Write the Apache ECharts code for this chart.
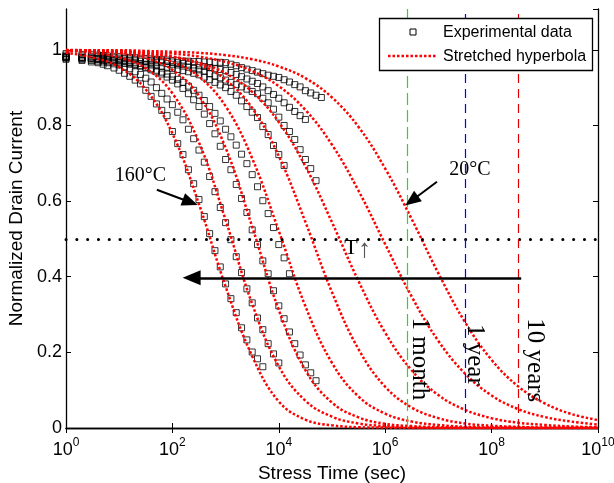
<!DOCTYPE html>
<html>
<head>
<meta charset="utf-8">
<script src="https://cdn.jsdelivr.net/npm/echarts@6/dist/echarts.min.js"></script>
<style>
  html, body { margin: 0; padding: 0; background: #fff; }
  #chart { width: 614px; height: 483px; }
</style>
</head>
<body>
<div id="chart"></div>
<script>
// stress times (sec) of the measured points, shared by all temperatures
const sampleTimes = [1, 2, 3, 4, 5, 6, 8, 10, 12.6, 15.8, 20, 25.1, 31.6, 39.8, 50.1, 63.1, 79.4,
  100, 126, 158, 200, 251, 316, 398, 501, 631, 794, 1000, 1259, 1585, 1995, 2512, 3162, 3981,
  5012, 6310, 7943, 10000, 12589, 15849, 19953, 25119, 31623, 39811, 50119, 63096];

// measured normalized drain current (each list stops where that run ended)
const measured160C = [0.975, 0.972, 0.968, 0.966, 0.962, 0.958, 0.952, 0.946, 0.938, 0.93, 0.92, 0.91,
  0.893, 0.877, 0.857, 0.84, 0.826, 0.784, 0.752, 0.723, 0.683, 0.646, 0.604, 0.559, 0.514, 0.469,
  0.426, 0.381, 0.342, 0.305, 0.265, 0.233, 0.201, 0.183, 0.162];
const measured140C = [0.978, 0.975, 0.972, 0.97, 0.968, 0.966, 0.963, 0.96, 0.955, 0.95, 0.942, 0.935,
  0.925, 0.915, 0.9, 0.885, 0.87, 0.855, 0.835, 0.815, 0.79, 0.765, 0.735, 0.703, 0.665, 0.625,
  0.583, 0.543, 0.498, 0.453, 0.411, 0.368, 0.331, 0.291, 0.26, 0.223, 0.196, 0.172];
const measured120C = [0.98, 0.978, 0.976, 0.975, 0.974, 0.973, 0.972, 0.97, 0.968, 0.965, 0.962, 0.958,
  0.952, 0.947, 0.942, 0.936, 0.928, 0.92, 0.91, 0.898, 0.884, 0.868, 0.85, 0.83, 0.805, 0.778,
  0.745, 0.71, 0.683, 0.644, 0.607, 0.57, 0.524, 0.485, 0.442, 0.408, 0.363, 0.323, 0.289, 0.254,
  0.223, 0.193, 0.167, 0.146, 0.125];
const measured100C = [0.98, 0.978, 0.976, 0.974, 0.972, 0.97, 0.968, 0.966, 0.964, 0.962, 0.96, 0.957,
  0.954, 0.95, 0.946, 0.941, 0.936, 0.93, 0.922, 0.914, 0.904, 0.893, 0.88, 0.866, 0.85, 0.832,
  0.812, 0.79, 0.77, 0.748, 0.724, 0.699, 0.67, 0.638, 0.601, 0.567, 0.53, 0.485, 0.45, 0.408];
const measured80C = [0.982, 0.98, 0.978, 0.977, 0.976, 0.975, 0.973, 0.972, 0.97, 0.968, 0.966, 0.964,
  0.962, 0.96, 0.958, 0.956, 0.954, 0.951, 0.948, 0.945, 0.942, 0.938, 0.934, 0.928, 0.921, 0.914,
  0.907, 0.9, 0.89, 0.88, 0.865, 0.85, 0.835, 0.821, 0.797, 0.776, 0.747, 0.723, 0.694];
const measured60C = [0.982, 0.98, 0.979, 0.978, 0.977, 0.976, 0.975, 0.974, 0.973, 0.972, 0.971, 0.97,
  0.969, 0.968, 0.967, 0.966, 0.964, 0.962, 0.96, 0.957, 0.954, 0.951, 0.947, 0.943, 0.937, 0.931,
  0.926, 0.92, 0.914, 0.908, 0.902, 0.896, 0.89, 0.884, 0.872, 0.86, 0.843, 0.822, 0.8, 0.784,
  0.763, 0.736, 0.71, 0.686, 0.654];
const measured40C = [0.986, 0.984, 0.983, 0.982, 0.981, 0.98, 0.979, 0.978, 0.977, 0.976, 0.975, 0.974,
  0.973, 0.972, 0.971, 0.97, 0.969, 0.968, 0.966, 0.964, 0.962, 0.96, 0.958, 0.956, 0.953, 0.95,
  0.948, 0.945, 0.94, 0.935, 0.929, 0.923, 0.917, 0.911, 0.902, 0.892, 0.882, 0.872, 0.86, 0.848,
  0.837, 0.826, 0.816];
const measured20C = [0.99, 0.988, 0.987, 0.986, 0.985, 0.984, 0.983, 0.982, 0.981, 0.98, 0.979, 0.978,
  0.977, 0.976, 0.975, 0.974, 0.973, 0.972, 0.971, 0.97, 0.97, 0.969, 0.969, 0.968, 0.968, 0.967,
  0.967, 0.966, 0.962, 0.958, 0.953, 0.949, 0.945, 0.941, 0.937, 0.933, 0.93, 0.927, 0.921, 0.915,
  0.908, 0.902, 0.892, 0.886, 0.88, 0.874];

// stretched hyperbola fits, read every half decade
const fitTimes = [1, 3.162, 10, 31.62, 100, 316.2, 1000, 3162, 1e4, 31623, 1e5, 316228, 1e6,
  3162278, 1e7, 31622777, 1e8, 316227766, 1e9, 3162277660, 1e10];
const fit160C = [0.992, 0.98, 0.954, 0.895, 0.779, 0.592, 0.374, 0.19, 0.07, 0.022, 0.007, 0.002, 0.001, 0, 0, 0, 0, 0, 0, 0, 0];
const fit140C = [0.997, 0.992, 0.98, 0.951, 0.885, 0.755, 0.55, 0.328, 0.163, 0.072, 0.03, 0.012, 0.005, 0.002, 0.001, 0, 0, 0, 0, 0, 0];
const fit120C = [0.999, 0.997, 0.991, 0.978, 0.947, 0.878, 0.741, 0.532, 0.312, 0.153, 0.067, 0.028, 0.011, 0.005, 0.002, 0.001, 0, 0, 0, 0, 0];
const fit100C = [0.999, 0.997, 0.994, 0.986, 0.968, 0.929, 0.851, 0.713, 0.521, 0.322, 0.172, 0.083, 0.038, 0.017, 0.008, 0.003, 0.001, 0.001, 0, 0, 0];
const fit80C = [0.999, 0.998, 0.996, 0.991, 0.982, 0.962, 0.921, 0.846, 0.719, 0.545, 0.359, 0.208, 0.109, 0.054, 0.026, 0.012, 0.006, 0.003, 0.001, 0.001, 0];
const fit60C = [0.999, 0.997, 0.995, 0.99, 0.982, 0.966, 0.938, 0.889, 0.809, 0.692, 0.544, 0.388, 0.252, 0.152, 0.087, 0.048, 0.026, 0.014, 0.008, 0.004, 0.002];
const fit40C = [0.999, 0.998, 0.997, 0.994, 0.99, 0.982, 0.968, 0.944, 0.904, 0.841, 0.749, 0.627, 0.486, 0.347, 0.23, 0.144, 0.086, 0.05, 0.029, 0.017, 0.009];
const fit20C = [1.0, 0.999, 0.999, 0.997, 0.995, 0.992, 0.986, 0.975, 0.956, 0.925, 0.874, 0.796, 0.686, 0.552, 0.409, 0.28, 0.18, 0.11, 0.065, 0.037, 0.021];

const measuredRuns = [measured160C, measured140C, measured120C, measured100C, measured80C, measured60C, measured40C, measured20C];
const fitRuns = [fit160C, fit140C, fit120C, fit100C, fit80C, fit60C, fit40C, fit20C];

// reference times (sec)
const oneMonth = 2592000;
const oneYear = 31536000;
const tenYears = 315360000;
const halfLevel = 0.5;

const SANS = '"Liberation Sans", Arial, sans-serif';
const SERIF = '"Liberation Serif", "Times New Roman", serif';

const series = [];
measuredRuns.forEach(function (run) {
  series.push({
    name: 'Experimental data',
    type: 'scatter',
    symbol: 'rect',
    symbolSize: 6,
    silent: true,
    itemStyle: { color: 'rgba(0,0,0,0)', borderColor: '#000', borderWidth: 1 },
    data: run.map(function (v, i) { return [sampleTimes[i], v]; })
  });
});
fitRuns.forEach(function (run) {
  series.push({
    name: 'Stretched hyperbola',
    type: 'line',
    smooth: 0.4,
    showSymbol: false,
    symbol: 'none',
    silent: true,
    lineStyle: { color: '#ff0000', width: 2.5, type: [2.5, 2] },
    data: run.map(function (v, i) { return [fitTimes[i], v]; })
  });
});

// reference lines and arrows
series.push({
  type: 'line',
  data: [],
  silent: true,
  markLine: {
    silent: true,
    animation: false,
    symbol: ['none', 'none'],
    label: { show: false },
    data: [
      { yAxis: halfLevel, lineStyle: { color: '#000', width: 3, type: [0.1, 10.7], cap: 'round', opacity: 1 } },
      { xAxis: oneMonth, lineStyle: { color: '#22dd22', width: 1.2, type: [12, 5], opacity: 1 } },
      { xAxis: oneYear, lineStyle: { color: '#0000ff', width: 1.2, type: [9, 6], opacity: 1 } },
      { xAxis: tenYears, lineStyle: { color: '#dd0000', width: 1.2, type: [9, 6], opacity: 1 } },
      [
        { coord: [3.6e8, 0.397], symbol: 'none', lineStyle: { color: '#000', width: 2.5, type: 'solid', opacity: 1 } },
        { coord: [230, 0.397], symbol: 'triangle', symbolSize: [15, 18] }
      ],
      [
        { coord: [51, 0.63], symbol: 'none', lineStyle: { color: '#000', width: 2, type: 'solid', opacity: 1 } },
        { coord: [217, 0.597], symbol: 'triangle', symbolSize: [13, 16] }
      ],
      [
        { coord: [9.4e6, 0.651], symbol: 'none', lineStyle: { color: '#000', width: 2, type: 'solid', opacity: 1 } },
        { coord: [3.13e6, 0.601], symbol: 'triangle', symbolSize: [13, 16] }
      ]
    ]
  }
});

function powerLabel(v) {
  return '{b|10}{s|' + Math.round(Math.log10(v)) + '}';
}

const option = {
  animation: false,
  backgroundColor: '#fff',
  grid: { left: 66, right: 16, top: 9, bottom: 55, show: false, containLabel: false, outerBoundsMode: 'none' },
  xAxis: [
    {
      type: 'log',
      logBase: 10,
      min: 1,
      max: 1e10,
      interval: 2,
      name: 'Stress Time (sec)',
      nameLocation: 'middle',
      nameGap: 35,
      nameTextStyle: { fontFamily: SANS, fontSize: 19, color: '#000' },
      axisLine: { lineStyle: { color: '#000', width: 1.3 } },
      axisTick: { inside: true, length: 5, lineStyle: { color: '#000' } },
      minorTick: { show: false },
      splitLine: { show: false },
      axisLabel: {
        margin: 9,
        formatter: powerLabel,
        rich: {
          b: { fontFamily: SANS, fontSize: 18, color: '#000', lineHeight: 22, verticalAlign: 'bottom' },
          s: { fontFamily: SANS, fontSize: 12, color: '#000', lineHeight: 12, verticalAlign: 'top' }
        }
      }
    },
    {
      type: 'log',
      logBase: 10,
      min: 1,
      max: 1e10,
      interval: 2,
      position: 'top',
      axisLine: { lineStyle: { color: '#000', width: 1.3 } },
      axisTick: { inside: true, length: 5, lineStyle: { color: '#000' } },
      minorTick: { show: false },
      splitLine: { show: false },
      axisLabel: { show: false }
    }
  ],
  yAxis: [
    {
      type: 'value',
      min: 0,
      max: 1.108,
      interval: 0.2,
      name: 'Normalized Drain Current',
      nameLocation: 'middle',
      nameGap: 31,
      nameTextStyle: { fontFamily: SANS, fontSize: 19, color: '#000' },
      axisLine: { show: true, lineStyle: { color: '#000', width: 1.3 } },
      axisTick: { show: true, inside: true, length: 5, lineStyle: { color: '#000' } },
      splitLine: { show: false },
      axisLabel: {
        margin: 4,
        showMaxLabel: false,
        fontFamily: SANS,
        fontSize: 18,
        color: '#000',
        formatter: function (v) { return v > 1.05 ? '' : String(+v.toFixed(1)); }
      }
    },
    {
      type: 'value',
      min: 0,
      max: 1.108,
      interval: 0.2,
      position: 'right',
      axisLine: { show: true, lineStyle: { color: '#000', width: 1.3 } },
      axisTick: { show: true, inside: true, length: 5, lineStyle: { color: '#000' } },
      splitLine: { show: false },
      axisLabel: { show: false }
    }
  ],
  series: series
};

const chart = echarts.init(document.getElementById('chart'), null, { renderer: 'canvas' });
chart.setOption(option);

function px(t, v) {
  return chart.convertToPixel({ xAxisIndex: 0, yAxisIndex: 0 }, [t, v]);
}

const graphics = [];
function addText(text, t, v, font, fill) {
  const p = px(t, v);
  graphics.push({
    type: 'text',
    x: p[0],
    y: p[1],
    z: 120,
    silent: true,
    style: {
      text: text,
      font: font,
      fill: fill || '#000',
      textAlign: 'center',
      textVerticalAlign: 'middle',
      align: 'center',
      verticalAlign: 'middle'
    }
  });
}

addText('160°C', 25, 0.667, '20px ' + SERIF);
addText('20°C', 3.9e7, 0.683, '20px ' + SERIF);
addText('T', 2.28e5, 0.476, '22px ' + SERIF);
addText('↑', 4.1e5, 0.47, '26px ' + SERIF, '#555');

function addVertical(text, t, v, dx) {
  const p = px(t, v);
  graphics.push({
    type: 'text',
    x: p[0] + dx,
    y: p[1],
    rotation: -Math.PI / 2,
    z: 120,
    silent: true,
    style: {
      text: text,
      font: '25px ' + SERIF,
      fill: '#000',
      textAlign: 'left',
      textVerticalAlign: 'middle',
      align: 'left',
      verticalAlign: 'middle'
    }
  });
}
addVertical('1 month', oneMonth, 0.292, 12);
addVertical('1 year', oneYear, 0.275, 10);
addVertical('10 years', tenYears, 0.29, 16);

// legend box
graphics.push(
  { type: 'rect', z: 130, silent: true, shape: { x: 379.5, y: 18.5, width: 213, height: 52 },
    style: { fill: '#fff', stroke: '#000', lineWidth: 1.3 } },
  { type: 'rect', z: 131, silent: true, shape: { x: 410, y: 29, width: 6, height: 6 },
    style: { fill: 'none', stroke: '#000', lineWidth: 1 } },
  { type: 'text', z: 131, silent: true, x: 443, y: 33,
    style: { text: 'Experimental data', font: '16px ' + SANS, fill: '#000',
      textAlign: 'left', textVerticalAlign: 'middle', align: 'left', verticalAlign: 'middle' } },
  { type: 'line', z: 131, silent: true, shape: { x1: 388, y1: 56, x2: 437, y2: 56 },
    style: { stroke: '#ff0000', lineWidth: 2.5, lineDash: [2.5, 2] } },
  { type: 'text', z: 131, silent: true, x: 443, y: 57,
    style: { text: 'Stretched hyperbola', font: '16px ' + SANS, fill: '#000',
      textAlign: 'left', textVerticalAlign: 'middle', align: 'left', verticalAlign: 'middle' } }
);

chart.setOption({ graphic: graphics });
</script>
</body>
</html>
